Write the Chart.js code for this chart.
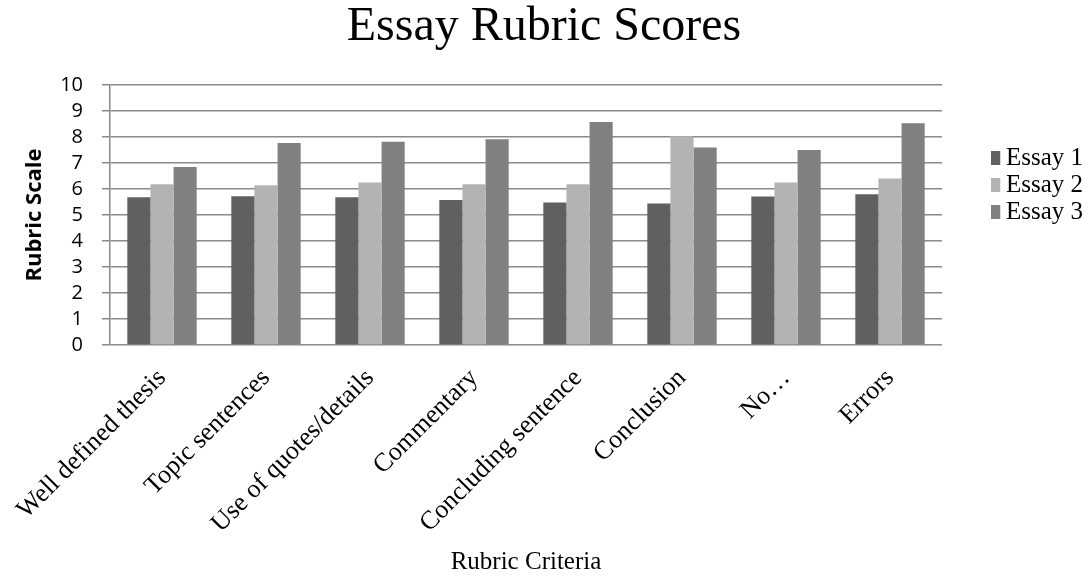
<!DOCTYPE html>
<html>
<head>
<meta charset="utf-8">
<title>Essay Rubric Scores</title>
<script src="https://cdn.jsdelivr.net/npm/chart.js@4.4.1/dist/chart.umd.min.js"></script>
<style>
  html, body { margin: 0; padding: 0; background: #ffffff; }
  #wrap { width: 1088px; height: 577px; }
</style>
</head>
<body>
<div id="wrap"><canvas id="chart" width="1088" height="577"></canvas></div>
<script>
// Rubric criteria along the x axis
const categories = [
  'Well defined thesis',
  'Topic sentences',
  'Use of quotes/details',
  'Commentary',
  'Concluding sentence',
  'Conclusion',
  'No\u2026',
  'Errors'
];

// Scores per essay
const essay1 = [5.68, 5.72, 5.68, 5.58, 5.48, 5.44, 5.71, 5.80];
const essay2 = [6.18, 6.14, 6.25, 6.18, 6.18, 8.03, 6.25, 6.40];
const essay3 = [6.85, 7.77, 7.82, 7.91, 8.58, 7.60, 7.50, 8.53];

const seriesNames = ['Essay 1', 'Essay 2', 'Essay 3'];
const yMin = 0;
const yMax = 10;
const yStep = 1;

const SERIF = "'Liberation Serif', 'Times New Roman', serif";
const SANS = "'Open Sans', 'Liberation Sans', sans-serif";
const GRID = '#8a8a8a';

// Layout targets for the plot frame
const PLOT_LEFT = 110, PLOT_RIGHT = 942, PLOT_TOP = 85, PLOT_BOTTOM = 345;
const W = 1088, H = 577;

const legendFont = { family: SERIF, size: 25 };
const legendPad = 2;
const legendBoxW = 0.5;
const LEGEND_BOX_X = 993;   // centre of the legend swatches
const LEGEND_FIRST_Y = 158; // centre of the first legend row

// Width Chart.js will reserve for the legend; the rest of the margin goes to an empty axis
const mctx = document.createElement('canvas').getContext('2d');
mctx.font = legendFont.size + 'px ' + SERIF;
const maxText = Math.max(...seriesNames.map(s => mctx.measureText(s).width));
const legendWidth = legendPad + legendBoxW + legendFont.size / 2 + maxText + 10;
const rightMargin = Math.max(1, (W - PLOT_RIGHT) - legendWidth);

// Place the legend beside the plot, independent of the reserved margin
const legendPlacer = {
  id: 'legendPlacer',
  afterLayout(chart) {
    const lg = chart.legend;
    if (!lg) return;
    const w = lg.width, h = lg.height;
    lg.left = LEGEND_BOX_X - legendPad;
    lg.top = LEGEND_FIRST_Y - legendFont.size / 2 - legendPad;
    lg.right = lg.left + w;
    lg.bottom = lg.top + h;
  }
};

new Chart(document.getElementById('chart'), {
  type: 'bar',
  data: {
    labels: categories,
    datasets: [
      { label: seriesNames[0], data: essay1, backgroundColor: '#606060' },
      { label: seriesNames[1], data: essay2, backgroundColor: '#b3b3b3' },
      { label: seriesNames[2], data: essay3, backgroundColor: '#808080' }
    ]
  },
  options: {
    responsive: false,
    animation: false,
    layout: { padding: 0 },
    datasets: {
      bar: { categoryPercentage: 0.667, barPercentage: 1.0, borderWidth: 0 }
    },
    plugins: {
      title: {
        display: true,
        text: 'Essay Rubric Scores',
        color: '#000',
        font: { family: SERIF, size: 48, weight: 'normal', lineHeight: 1 },
        padding: { top: 3, bottom: PLOT_TOP - 48 - 3 }
      },
      legend: {
        display: true,
        position: 'right',
        align: 'start',
        labels: {
          color: '#000',
          font: legendFont,
          usePointStyle: true,
          pointStyle: 'rect',
          boxWidth: legendBoxW,
          boxHeight: 14,
          padding: legendPad
        }
      },
      tooltip: { enabled: false }
    },
    scales: {
      x: {
        grid: { display: false, drawTicks: false },
        border: { display: false },
        ticks: {
          color: '#000',
          font: { family: SERIF, size: 26 },
          maxRotation: 45,
          minRotation: 45,
          autoSkip: false,
          padding: 18
        },
        title: {
          display: true,
          text: 'Rubric Criteria',
          color: '#000',
          font: { family: SERIF, size: 25, lineHeight: 1.2 },
          padding: { top: 0, bottom: 0 }
        },
        afterFit(scale) {
          scale.height = H - PLOT_BOTTOM;
          // rotated labels may hang past the plot edges; keep the frame fixed
          scale.paddingLeft = 0;
          scale.paddingRight = 0;
        }
      },
      y: {
        min: yMin,
        max: yMax,
        grid: { color: GRID, lineWidth: 1.5, tickLength: 8 },
        border: { display: true, color: GRID, width: 1.5 },
        ticks: {
          stepSize: yStep,
          autoSkip: false,
          color: '#000',
          font: { family: SANS, size: 20, lineHeight: 1 },
          padding: 19
        },
        title: {
          display: true,
          text: 'Rubric Scale',
          color: '#000',
          font: { family: SANS, size: 22, weight: 'bold', lineHeight: 1.2 },
          padding: { top: 22, bottom: 0 }
        },
        afterFit(scale) {
          scale.width = PLOT_LEFT;
          scale.paddingTop = 0;
          scale.paddingBottom = 0;
        }
      },
      // empty right-hand margin between the plot and the legend
      yRight: {
        type: 'linear',
        position: 'right',
        display: true,
        min: 0,
        max: 1,
        grid: { display: false, drawTicks: false },
        border: { display: false },
        ticks: { display: false },
        title: { display: false },
        afterFit(scale) { scale.width = rightMargin; }
      }
    }
  },
  plugins: [legendPlacer]
});
</script>
</body>
</html>
